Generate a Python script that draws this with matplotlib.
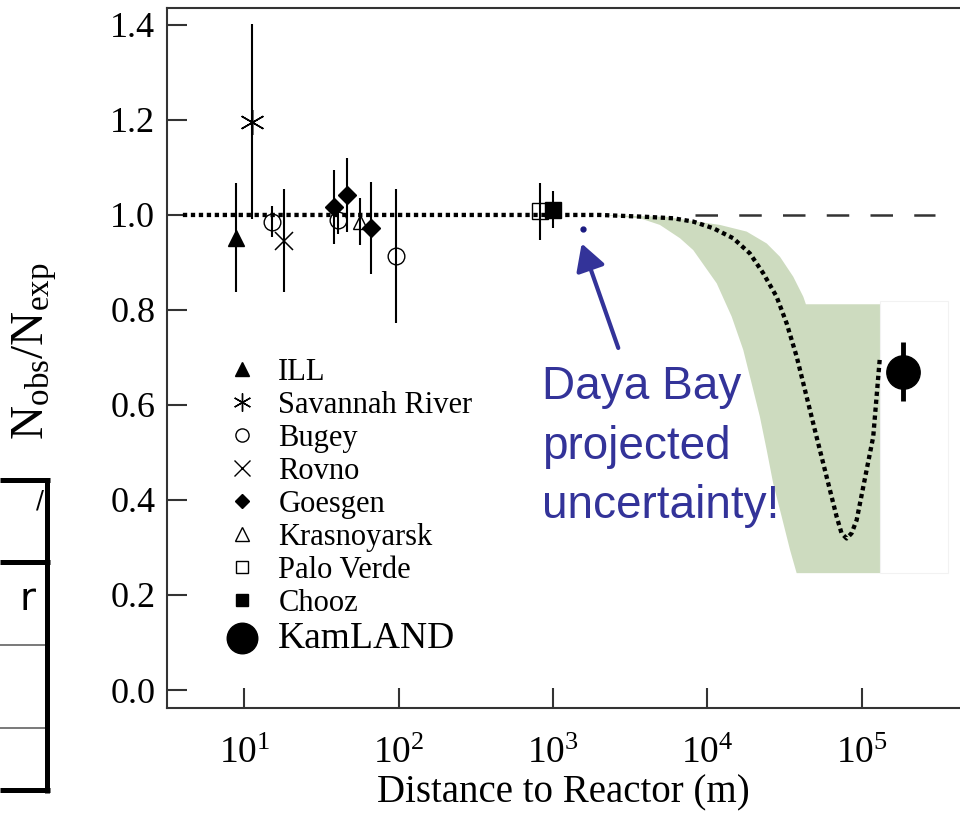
import matplotlib
matplotlib.use('Agg')
import matplotlib.pyplot as plt
from matplotlib.lines import Line2D
from matplotlib.patches import Rectangle
from matplotlib.ticker import NullLocator

plt.rcParams['font.family'] = ['Liberation Serif', 'DejaVu Serif']
plt.rcParams['mathtext.fontset'] = 'custom'
plt.rcParams['mathtext.rm'] = 'Liberation Serif'
plt.rcParams['mathtext.it'] = 'Liberation Serif:italic'
plt.rcParams['mathtext.bf'] = 'Liberation Serif:bold'

# ---------------- data (distance in m, ratio Nobs/Nexp) ----------------
ill_x = [8.9];            ill_y = [0.952];            ill_err = [0.115]
savannah_x = [11.3];      savannah_y = [1.196];       savannah_err = [0.205]
bugey_x = [15.1, 40.3, 96.1]; bugey_y = [0.986, 0.989, 0.914]; bugey_err = [0.032, 0.030, 0.141]
rovno_x = [18.2];         rovno_y = [0.946];          rovno_err = [0.109]
goesgen_x = [38.3, 46.5, 65.9]; goesgen_y = [1.017, 1.042, 0.973]; goesgen_err = [0.078, 0.077, 0.097]
krasnoyarsk_x = [56.2];   krasnoyarsk_y = [0.986];    krasnoyarsk_err = [0.049]
paloverde_x = [824];      paloverde_y = [1.008];      paloverde_err = [0.060]
chooz_x = [1004];         chooz_y = [1.011];          chooz_err = [0.039]
kamland_x = [1.86e5];     kamland_y = [0.670];        kamland_err = [0.062]

dayabay_x = [1570];       dayabay_y = [0.971]

# oscillation expectation (dotted curve)
curve_x = [4, 2014, 4046, 6012, 8110, 10940, 14720, 18880, 23070, 28120, 32660,
           37930, 44060, 51050, 59290, 68870, 74130, 79980, 86100, 92900,
           107700, 118900, 128200, 131500]
curve_y = [1.0, 1.0, 0.996, 0.993, 0.986, 0.972, 0.951, 0.919, 0.877, 0.828, 0.772,
           0.702, 0.617, 0.533, 0.449, 0.365, 0.330, 0.319, 0.330, 0.358,
           0.463, 0.533, 0.660, 0.702]

# uncertainty band (green)
band_lower_x = [2014, 3664, 4932, 6653, 8110, 11510, 14390, 17100, 19360, 21930,
                24270, 26730, 30340, 34360, 37930, 131500]
band_lower_y = [1.0, 0.993, 0.979, 0.951, 0.926, 0.856, 0.786, 0.716, 0.646, 0.575,
                0.505, 0.435, 0.365, 0.295, 0.246, 0.246]
band_upper_x = [131500, 43550, 41880, 36060, 29580, 24270, 17990, 12080, 8531, 5458, 2014]
band_upper_y = [0.812, 0.812, 0.828, 0.870, 0.912, 0.940, 0.965, 0.979, 0.986, 0.996, 1.0]

no_osc_x = [8300, 2.98e5]
no_osc_y = [1.0, 1.0]

x_ticks = [1e1, 1e2, 1e3, 1e4, 1e5]
x_ticklabels = [r'$10^{1}$', r'$10^{2}$', r'$10^{3}$', r'$10^{4}$', r'$10^{5}$']
y_ticks = [0.0, 0.2, 0.4, 0.6, 0.8, 1.0, 1.2, 1.4]
y_ticklabels = ['0.0', '0.2', '0.4', '0.6', '0.8', '1.0', '1.2', '1.4']

legend_labels = ['ILL', 'Savannah River', 'Bugey', 'Rovno', 'Goesgen',
                 'Krasnoyarsk', 'Palo Verde', 'Chooz', 'KamLAND']

# ---------------- figure ----------------
W, H = 960, 833
fig = plt.figure(figsize=(W / 100, H / 100), dpi=100)
fig.patch.set_facecolor('white')
ax = fig.add_axes([167.3 / W, 1 - 708.3 / H, (W - 167.3) / W, (708.3 - 8.3) / H])
ax.set_xscale('log')
ax.set_xlim(3.17, 4.34e5)
ax.set_ylim(-0.0385, 1.435)

# band
ax.fill(band_lower_x + band_upper_x, band_lower_y + band_upper_y,
        color='#cddbbf', lw=0, zorder=1)
# faint white box right of band
ax.add_patch(Rectangle((131500, 0.246), 3.62e5 - 131500, 0.818 - 0.246,
                       facecolor='white', edgecolor='#f2f2f2', lw=0.8, zorder=1))

ax.plot(no_osc_x, no_osc_y, color='#333333', lw=1.8, ls=(0, (9, 8.5)), zorder=2)
ax.plot(curve_x, curve_y, color='black', lw=3.1, ls=(0, (1, 0.85)), zorder=3)

ek = dict(ls='none', ecolor='black', elinewidth=1.5, capsize=0, zorder=5)
ax.errorbar(ill_x, ill_y, yerr=ill_err, marker='^', ms=12, mfc='black', mec='black', **ek)
ax.errorbar(savannah_x, savannah_y, yerr=savannah_err, marker=(6, 2, 0), ms=18,
            mec='black', mew=1.1, **ek)
ax.errorbar(bugey_x, bugey_y, yerr=bugey_err, marker='o', ms=12, mfc='none',
            mec='black', mew=1.0, **ek)
ax.errorbar(rovno_x, rovno_y, yerr=rovno_err, marker='x', ms=13, mec='black', mew=1.1, **ek)
ax.errorbar(goesgen_x, goesgen_y, yerr=goesgen_err, marker='D', ms=9, mfc='black',
            mec='black', **ek)
ax.errorbar(krasnoyarsk_x, krasnoyarsk_y, yerr=krasnoyarsk_err, marker='^', ms=10,
            mfc='none', mec='black', mew=1.0, **ek)
ax.errorbar(paloverde_x, paloverde_y, yerr=paloverde_err, marker='s', ms=11,
            mfc='none', mec='black', mew=1.0, **ek)
ax.errorbar(chooz_x, chooz_y, yerr=chooz_err, marker='s', ms=12, mfc='black',
            mec='black', **ek)
ax.errorbar(kamland_x, kamland_y, yerr=kamland_err, ls='none', marker='o', ms=24,
            mfc='black', mec='black', ecolor='black', elinewidth=3.5, capsize=0, zorder=5)

# Daya Bay projected point and annotation
blue = '#333399'
ax.plot(dayabay_x, dayabay_y, ls='none', marker='o', ms=3.5, color='#1a1a80', zorder=6)
ax.annotate('', xy=(1535, 0.94), xytext=(2650, 0.72),
            arrowprops=dict(arrowstyle='-|>,head_length=0.8,head_width=0.45',
                            color=blue, lw=3, mutation_scale=20,
                            shrinkA=0, shrinkB=0), zorder=6)
ax.text(845, 0.3615, 'Daya Bay\nprojected\nuncertainty!', color=blue, fontsize=33,
        family=['Liberation Sans', 'DejaVu Sans'], ha='left', va='baseline',
        linespacing=1.46, zorder=7)

# legend (proxy handles)
handles = [
    Line2D([], [], ls='none', marker='^', ms=10, mfc='black', mec='black'),
    Line2D([], [], ls='none', marker=(6, 2, 0), ms=13, mec='black', mew=1.0),
    Line2D([], [], ls='none', marker='o', ms=9.5, mfc='none', mec='black', mew=1.0),
    Line2D([], [], ls='none', marker='x', ms=11, mec='black', mew=1.0),
    Line2D([], [], ls='none', marker='D', ms=7.5, mfc='black', mec='black'),
    Line2D([], [], ls='none', marker='^', ms=9.5, mfc='none', mec='black', mew=1.0),
    Line2D([], [], ls='none', marker='s', ms=9, mfc='none', mec='black', mew=1.0),
    Line2D([], [], ls='none', marker='s', ms=9, mfc='black', mec='black'),
    Line2D([], [], ls='none', marker='o', ms=22, mfc='black', mec='black'),
]
leg = ax.legend(handles, legend_labels, loc='upper left',
                bbox_to_anchor=(227.0 / W, 1 - 358 / H), bbox_transform=fig.transFigure,
                frameon=False, fontsize=22, handlelength=1.0, handletextpad=0.68,
                labelspacing=0.13, borderpad=0, borderaxespad=0)
leg.get_texts()[-1].set_fontsize(27)

# axes styling
for side in ['left', 'bottom', 'top']:
    ax.spines[side].set_linewidth(1.5)
    ax.spines[side].set_color('#333333')
ax.spines['right'].set_visible(False)
ax.set_xticks(x_ticks)
ax.set_xticklabels(x_ticklabels)
ax.xaxis.set_minor_locator(NullLocator())
ax.set_yticks(y_ticks)
ax.set_yticklabels(y_ticklabels)
ax.tick_params(axis='both', which='major', direction='in', length=14.4, width=1.5,
               color='#333333', labelcolor='black', labelsize=26, top=False, right=False)
ax.tick_params(axis='y', pad=8.6)
ax.tick_params(axis='x', pad=20, labelsize=27)

ax.set_xlabel('Distance to Reactor (m)', fontsize=28, labelpad=3)
ax.set_ylabel(r'N$_{\mathrm{obs}}$/N$_{\mathrm{exp}}$', fontsize=34)
ax.yaxis.set_label_coords(-0.137, 0.5097)

# cropped table fragment on the left edge of the slide
def px(x, y):
    return x / W, 1 - y / H

for (x0, y0, x1, y1, lw, c) in [
        (47.3, 477.5, 47.3, 792.5, 3.6, 'black'),
        (0, 480, 50, 480, 3.6, 'black'),
        (0, 561.7, 50, 561.7, 3.6, 'black'),
        (0, 645, 45, 645, 1.1, '#555555'),
        (0, 728.3, 45, 728.3, 1.1, '#555555'),
        (0, 790, 50, 790, 3.6, 'black')]:
    a, b = px(x0, y0)
    c2, d = px(x1, y1)
    fig.add_artist(Line2D([a, c2], [b, d], transform=fig.transFigure, lw=lw, color=c,
                          solid_capstyle='butt'))
fig.text(*px(27.5, 610), 'r', fontsize=28, family=['DejaVu Sans'], ha='center',
         va='baseline', color='black')
fig.text(*px(40, 508), '/', fontsize=17, family=['DejaVu Sans'], ha='center',
         va='baseline', color='black')

fig.savefig('out.png', dpi=100, facecolor='white')
